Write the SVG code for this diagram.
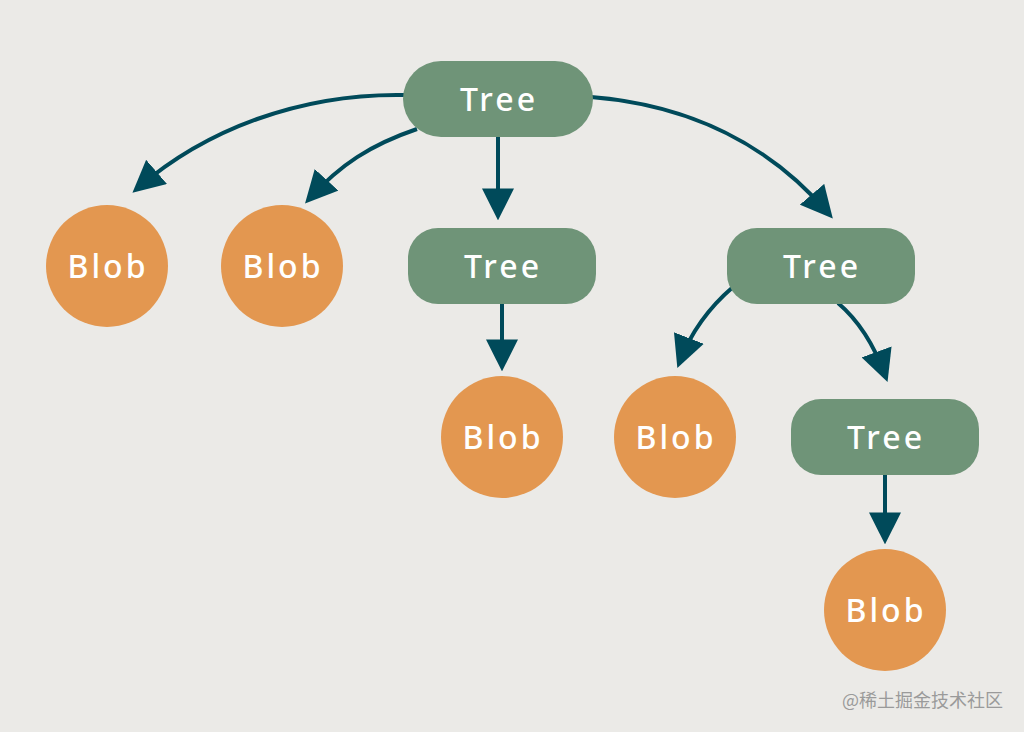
<svg xmlns="http://www.w3.org/2000/svg" width="1024" height="732" viewBox="0 0 1024 732">
<style>
.tree rect{fill:#6f9478}
.blob circle{fill:#e39750}
.lbl{font-family:"Noto Sans","Open Sans",sans-serif;font-size:32px;fill:#ffffff;text-anchor:middle;letter-spacing:3px;font-weight:500}
.edge{fill:none;stroke:#004a5a;stroke-width:4}
.wm{font-family:"Noto Sans CJK SC","Noto Sans",sans-serif;font-size:18px;fill:#9a9a9a}
</style>
<defs>
<marker id="ah" markerUnits="userSpaceOnUse" markerWidth="32" markerHeight="32" viewBox="0 0 26 26" refX="20" refY="13" orient="auto">
<path d="M0,0 L26,13 L0,26 z" fill="#004a5a"/>
</marker>
</defs>
<rect width="1024" height="732" fill="#ebeae7"/>
<g id="connectors">
<path class="edge" marker-end="url(#ah)" d="M405,95 C300,93 205,130 138,188"/>
<path class="edge" marker-end="url(#ah)" d="M417,129 C370,145 340,165 310,198"/>
<path class="edge" marker-end="url(#ah)" d="M498,137 L498,213"/>
<path class="edge" marker-end="url(#ah)" d="M591,97 C690,105 770,145 828,213"/>
<path class="edge" marker-end="url(#ah)" d="M502,304 L502,364"/>
<path class="edge" marker-end="url(#ah)" d="M733,287 C712,305 692,330 680,361"/>
<path class="edge" marker-end="url(#ah)" d="M838,303 C858,320 874,345 885,375"/>
<path class="edge" marker-end="url(#ah)" d="M885,475 L885,537"/>
</g>
<g id="tree1" class="tree"><rect x="403" y="61" width="190" height="76" rx="38"/><text class="lbl" x="499" y="111">Tree</text></g>
<g id="tree2" class="tree"><rect x="408" y="228" width="188" height="76" rx="30"/><text class="lbl" x="503" y="278">Tree</text></g>
<g id="tree3" class="tree"><rect x="727" y="228" width="188" height="76" rx="30"/><text class="lbl" x="822" y="278">Tree</text></g>
<g id="tree4" class="tree"><rect x="791" y="399" width="188" height="76" rx="30"/><text class="lbl" x="886" y="449">Tree</text></g>
<g id="blob1" class="blob"><circle cx="107" cy="266" r="61"/><text class="lbl" x="108" y="278">Blob</text></g>
<g id="blob2" class="blob"><circle cx="282" cy="266" r="61"/><text class="lbl" x="283" y="278">Blob</text></g>
<g id="blob3" class="blob"><circle cx="502" cy="437" r="61"/><text class="lbl" x="503" y="449">Blob</text></g>
<g id="blob4" class="blob"><circle cx="675" cy="437" r="61"/><text class="lbl" x="676" y="449">Blob</text></g>
<g id="blob5" class="blob"><circle cx="885" cy="610" r="61"/><text class="lbl" x="886" y="622">Blob</text></g>
<text class="wm" x="842" y="707">@稀土掘金技术社区</text>
</svg>
